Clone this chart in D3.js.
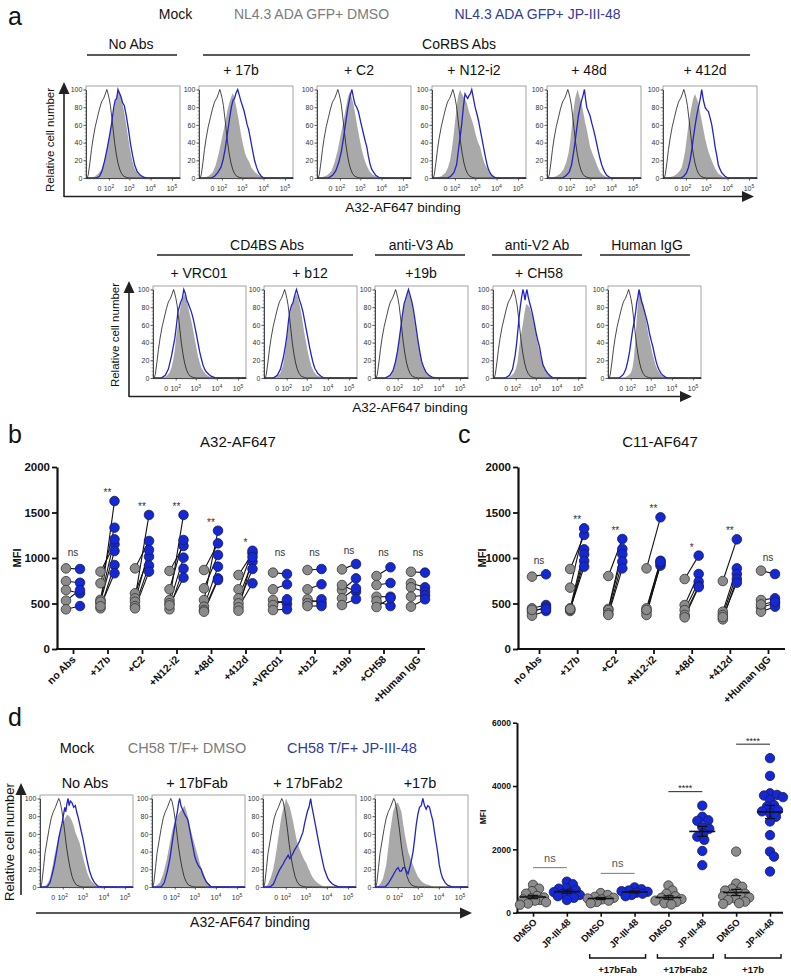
<!DOCTYPE html>
<html>
<head>
<meta charset="utf-8">
<script src="https://cdn.jsdelivr.net/npm/d3@7/dist/d3.min.js"></script>
<style>
  html,body{margin:0;padding:0;background:#fff;}
  svg{display:block;}
  text{font-family:"Liberation Sans",Arial,Helvetica,sans-serif;}
</style>
</head>
<body>
<svg id="fig" width="791" height="976" viewBox="0 0 791 976"></svg>
<script>
// ====================== DATA ======================
const histYTicks = [0, 20, 40, 60, 80, 100];
const histXTickPos = [1.5, 1.95, 2.92, 3.93, 4.95];
const histXExp = [null, "2", "3", "4", "5"];

const aRow1Labels = ["", "+ 17b", "+ C2", "+ N12-i2", "+ 48d", "+ 412d"];
const aRow2Labels = ["+ VRC01", "+ b12", "+19b", "+ CH58", ""];
const dHistLabels = ["No Abs", "+ 17bFab", "+ 17bFab2", "+17b"];

const mockA = [[0.92,0],[0.97,4],[1.05,18],[1.12,32],[1.2,45],[1.3,58],[1.4,68],[1.5,78],[1.6,86],[1.7,90],[1.78,95],[1.85,100],[1.9,96],[1.96,90],[2.02,82],[2.08,70],[2.15,55],[2.22,40],[2.3,27],[2.38,17],[2.46,10],[2.55,5],[2.65,2],[2.8,0.5],[2.95,0]];
const mockD = [[0.9,0],[0.95,5],[1.03,22],[1.1,38],[1.2,52],[1.3,66],[1.4,78],[1.5,85],[1.6,90],[1.68,95],[1.76,100],[1.82,97],[1.9,88],[1.98,75],[2.05,62],[2.12,48],[2.2,35],[2.3,22],[2.4,12],[2.5,6],[2.62,2],[2.8,0.5],[2.95,0]];

const aNoAbsGray = [[1.1,0],[1.3,2],[1.45,5],[1.6,10],[1.72,18],[1.85,32],[1.95,45],[2.05,58],[2.15,72],[2.25,85],[2.32,92],[2.4,100],[2.48,95],[2.56,88],[2.65,78],[2.75,64],[2.85,48],[2.95,33],[3.05,21],[3.15,12],[3.3,5],[3.5,2],[3.7,0]];
const aNoAbsBlue = [[1.35,0],[1.5,2],[1.62,8],[1.75,20],[1.88,35],[1.98,48],[2.08,62],[2.18,80],[2.25,88],[2.32,90],[2.38,100],[2.45,96],[2.52,92],[2.6,85],[2.68,82],[2.78,70],[2.88,55],[2.98,38],[3.08,25],[3.18,14],[3.3,7],[3.45,3],[3.6,1],[3.75,0]];
const a17bGray = [[1.0,0],[1.3,2],[1.5,6],[1.65,14],[1.8,28],[1.95,45],[2.1,62],[2.2,75],[2.3,85],[2.4,92],[2.47,96],[2.55,90],[2.65,78],[2.75,65],[2.85,50],[2.95,38],[3.05,28],[3.15,22],[3.25,18],[3.35,12],[3.5,7],[3.65,4],[3.85,1],[4.05,0]];
const a17bBlue = [[1.45,0],[1.6,2],[1.75,6],[1.9,12],[2.0,20],[2.1,32],[2.2,48],[2.3,65],[2.4,80],[2.48,88],[2.55,90],[2.62,96],[2.7,100],[2.76,95],[2.84,88],[2.92,82],[3.0,76],[3.08,68],[3.15,60],[3.22,55],[3.3,45],[3.4,32],[3.5,20],[3.6,12],[3.7,6],[3.82,2],[3.95,0]];
const aC2Gray = [[1.0,0],[1.35,3],[1.55,8],[1.7,18],[1.85,32],[1.98,48],[2.1,62],[2.22,78],[2.32,90],[2.4,97],[2.48,93],[2.58,85],[2.68,72],[2.78,58],[2.88,45],[2.98,33],[3.1,22],[3.22,14],[3.35,8],[3.5,4],[3.7,1],[3.9,0]];
const aC2Blue = [[1.4,0],[1.6,3],[1.75,8],[1.9,18],[2.02,30],[2.12,45],[2.22,62],[2.32,78],[2.4,88],[2.46,95],[2.52,100],[2.6,90],[2.67,83],[2.75,80],[2.83,75],[2.95,62],[3.07,50],[3.15,42],[3.23,35],[3.3,25],[3.38,16],[3.46,10],[3.54,7],[3.65,3],[3.78,1],[3.9,0]];
const aN12Gray = [[1.0,0],[1.3,2],[1.5,6],[1.62,12],[1.72,20],[1.8,32],[1.87,45],[1.95,62],[2.03,80],[2.1,92],[2.19,100],[2.28,95],[2.4,90],[2.51,85],[2.62,75],[2.72,68],[2.83,60],[2.95,48],[3.05,40],[3.15,35],[3.25,25],[3.35,17],[3.46,12],[3.54,8],[3.62,5],[3.8,1],[3.95,0]];
const aN12Blue = [[1.6,0],[1.75,2],[1.9,6],[2.03,15],[2.12,32],[2.19,45],[2.27,60],[2.35,80],[2.43,95],[2.5,92],[2.56,90],[2.62,93],[2.68,95],[2.75,100],[2.83,90],[2.91,80],[3.0,72],[3.07,65],[3.15,55],[3.23,45],[3.31,35],[3.39,25],[3.47,16],[3.54,10],[3.62,6],[3.7,3],[3.82,1],[3.94,0]];
const a48dGray = [[1.0,0],[1.3,2],[1.5,5],[1.65,10],[1.78,18],[1.88,28],[1.96,40],[2.04,58],[2.11,75],[2.2,90],[2.31,100],[2.4,92],[2.5,85],[2.6,72],[2.68,62],[2.75,55],[2.83,45],[2.91,35],[3.03,27],[3.15,20],[3.26,13],[3.38,7],[3.5,4],[3.62,2],[3.8,0]];
const a48dBlue = [[1.6,0],[1.78,3],[1.92,7],[2.03,15],[2.11,27],[2.19,40],[2.27,55],[2.35,70],[2.43,80],[2.51,88],[2.58,94],[2.64,100],[2.7,88],[2.75,80],[2.83,75],[2.91,70],[2.99,62],[3.07,55],[3.15,47],[3.23,38],[3.3,30],[3.38,22],[3.46,15],[3.54,10],[3.62,6],[3.7,3],[3.82,1],[3.94,0]];
const a412dGray = [[1.0,0],[1.35,2],[1.55,5],[1.68,9],[1.75,12],[1.83,20],[1.91,30],[1.99,45],[2.07,60],[2.15,72],[2.23,82],[2.3,90],[2.38,95],[2.46,90],[2.54,85],[2.62,75],[2.7,65],[2.78,55],[2.86,45],[2.94,37],[3.02,30],[3.14,22],[3.26,15],[3.38,9],[3.49,5],[3.61,3],[3.73,1],[3.9,0]];
const a412dBlue = [[1.7,0],[1.85,2],[1.98,6],[2.07,12],[2.15,20],[2.23,32],[2.3,45],[2.38,58],[2.46,70],[2.53,78],[2.59,85],[2.65,92],[2.7,100],[2.78,88],[2.86,80],[2.94,77],[3.02,75],[3.1,68],[3.18,60],[3.26,48],[3.34,35],[3.42,25],[3.49,15],[3.57,10],[3.65,6],[3.73,4],[3.81,2],[3.95,0]];
const aVrcGray = [[1.2,0],[1.5,2],[1.65,6],[1.75,12],[1.83,20],[1.91,32],[1.99,50],[2.07,62],[2.14,75],[2.22,85],[2.3,90],[2.38,95],[2.46,90],[2.54,82],[2.62,73],[2.7,65],[2.78,55],[2.86,45],[2.94,35],[3.02,25],[3.1,18],[3.18,12],[3.3,7],[3.42,4],[3.6,1],[3.75,0]];
const aVrcBlue = [[1.25,0],[1.45,3],[1.6,10],[1.75,25],[1.83,35],[1.91,45],[1.99,60],[2.06,75],[2.12,80],[2.18,85],[2.27,90],[2.34,100],[2.42,95],[2.48,88],[2.54,85],[2.62,80],[2.7,75],[2.76,70],[2.81,65],[2.88,57],[2.94,50],[3.02,40],[3.1,30],[3.18,22],[3.26,15],[3.34,10],[3.42,7],[3.55,4],[3.65,2],[3.89,0]];
const aB12Gray = [[1.2,0],[1.5,2],[1.65,6],[1.78,15],[1.88,30],[1.96,45],[2.04,60],[2.12,72],[2.2,82],[2.28,88],[2.36,93],[2.43,95],[2.5,90],[2.58,82],[2.66,72],[2.74,60],[2.82,48],[2.9,38],[2.98,28],[3.06,20],[3.14,13],[3.26,7],[3.4,3],[3.6,1],[3.75,0]];
const aB12Blue = [[1.3,0],[1.5,3],[1.65,10],[1.78,22],[1.88,35],[1.96,48],[2.04,65],[2.1,75],[2.18,82],[2.25,85],[2.32,92],[2.38,97],[2.42,100],[2.48,95],[2.57,88],[2.65,82],[2.73,75],[2.81,65],[2.89,55],[2.97,45],[3.05,35],[3.13,26],[3.21,18],[3.3,11],[3.45,5],[3.6,2],[3.75,0]];
const a19bGray = [[1.3,0],[1.55,2],[1.7,6],[1.82,15],[1.92,28],[2.0,40],[2.08,55],[2.16,68],[2.24,80],[2.32,88],[2.4,94],[2.47,97],[2.54,92],[2.62,85],[2.7,75],[2.78,62],[2.86,50],[2.94,38],[3.02,27],[3.1,18],[3.2,11],[3.3,6],[3.45,3],[3.6,1],[3.8,0]];
const a19bBlue = [[1.35,0],[1.58,3],[1.72,8],[1.84,18],[1.94,30],[2.02,43],[2.1,57],[2.18,72],[2.26,84],[2.34,90],[2.4,95],[2.47,100],[2.54,94],[2.62,87],[2.7,78],[2.78,66],[2.86,53],[2.94,40],[3.02,29],[3.1,19],[3.2,12],[3.3,7],[3.45,3],[3.6,1],[3.8,0]];
const aCh58Gray = [[1.5,0],[1.7,2],[1.85,5],[1.95,10],[2.04,18],[2.12,35],[2.2,48],[2.3,62],[2.38,75],[2.46,84],[2.54,82],[2.62,80],[2.7,74],[2.78,68],[2.86,58],[2.94,48],[3.02,38],[3.1,30],[3.2,20],[3.34,12],[3.45,7],[3.57,4],[3.75,1],[3.9,0]];
const aCh58Blue = [[1.45,0],[1.65,3],[1.8,10],[1.92,25],[2.0,40],[2.06,55],[2.12,70],[2.18,82],[2.24,92],[2.3,100],[2.35,95],[2.4,88],[2.45,96],[2.49,100],[2.55,92],[2.62,85],[2.7,78],[2.78,70],[2.86,60],[2.94,50],[3.02,42],[3.1,35],[3.18,24],[3.26,15],[3.38,9],[3.5,5],[3.62,2],[3.75,0]];
const aIgGGray = [[1.5,0],[1.7,1],[1.85,3],[1.96,6],[2.04,12],[2.1,22],[2.16,38],[2.22,60],[2.28,80],[2.33,95],[2.38,100],[2.44,95],[2.5,88],[2.58,80],[2.66,70],[2.74,58],[2.82,47],[2.9,38],[2.98,29],[3.06,22],[3.14,15],[3.24,9],[3.36,5],[3.5,2],[3.7,0]];
const aIgGBlue = [[1.4,0],[1.6,4],[1.72,10],[1.82,20],[1.9,30],[1.97,42],[2.05,55],[2.13,65],[2.19,75],[2.24,85],[2.3,92],[2.35,100],[2.42,92],[2.48,86],[2.54,82],[2.62,75],[2.7,68],[2.78,60],[2.86,50],[2.94,42],[3.02,35],[3.1,26],[3.18,18],[3.26,12],[3.34,8],[3.42,5],[3.5,3],[3.62,1],[3.75,0]];

const dNoAbsGray = [[1.0,0],[1.15,2],[1.25,5],[1.34,10],[1.45,22],[1.55,35],[1.66,47],[1.76,58],[1.87,66],[1.97,73],[2.07,78],[2.17,82],[2.27,80],[2.37,76],[2.47,70],[2.56,62],[2.66,56],[2.76,50],[2.88,38],[3.0,27],[3.12,17],[3.24,10],[3.36,6],[3.48,3],[3.65,0]];
const dNoAbsBlue = [[1.2,0],[1.34,5],[1.45,15],[1.55,25],[1.66,40],[1.76,55],[1.85,65],[1.92,72],[1.98,80],[2.05,90],[2.1,85],[2.16,95],[2.21,100],[2.26,92],[2.32,97],[2.4,95],[2.48,90],[2.56,92],[2.62,85],[2.68,80],[2.76,72],[2.84,63],[2.92,55],[3.0,45],[3.08,35],[3.16,26],[3.24,18],[3.36,10],[3.48,5],[3.64,1],[3.8,0]];
const d17bFabGray = [[0.95,0],[1.1,2],[1.24,5],[1.4,15],[1.56,30],[1.68,45],[1.8,60],[1.88,68],[1.96,75],[2.08,80],[2.2,85],[2.32,88],[2.43,92],[2.52,85],[2.6,78],[2.67,70],[2.75,62],[2.83,55],[2.95,45],[3.07,35],[3.18,25],[3.3,18],[3.42,10],[3.54,5],[3.7,1],[3.85,0]];
const d17bFabBlue = [[1.3,0],[1.45,5],[1.6,18],[1.72,32],[1.8,45],[1.88,58],[1.96,70],[2.02,78],[2.08,85],[2.14,95],[2.19,100],[2.25,92],[2.32,88],[2.4,84],[2.48,80],[2.54,78],[2.59,75],[2.67,65],[2.75,55],[2.83,45],[2.91,35],[2.99,29],[3.07,25],[3.15,22],[3.22,20],[3.3,14],[3.38,10],[3.46,6],[3.54,4],[3.7,0]];
const d17bFab2Gray = [[0.95,0],[1.1,3],[1.25,12],[1.35,20],[1.43,30],[1.51,42],[1.59,55],[1.67,68],[1.75,80],[1.83,88],[1.91,95],[1.97,100],[2.05,95],[2.15,90],[2.23,82],[2.3,75],[2.38,65],[2.46,55],[2.54,48],[2.62,43],[2.7,38],[2.78,34],[2.86,30],[2.94,27],[3.02,22],[3.1,18],[3.22,12],[3.34,8],[3.46,5],[3.58,3],[3.8,0]];
const d17bFab2Blue = [[1.15,0],[1.25,1],[1.35,3],[1.43,7],[1.51,12],[1.59,16],[1.67,20],[1.75,23],[1.83,26],[1.91,30],[1.99,33],[2.07,36],[2.15,32],[2.23,35],[2.3,38],[2.38,42],[2.46,45],[2.54,48],[2.62,52],[2.7,57],[2.78,62],[2.86,72],[2.94,80],[3.0,86],[3.07,90],[3.15,100],[3.2,92],[3.26,85],[3.34,75],[3.42,65],[3.5,55],[3.58,45],[3.66,36],[3.73,28],[3.81,20],[3.89,15],[3.97,10],[4.05,7],[4.17,4],[4.29,2],[4.53,0]];
const d17bGray = [[0.95,0],[1.1,3],[1.25,10],[1.4,25],[1.5,45],[1.57,60],[1.65,72],[1.73,85],[1.81,90],[1.89,95],[1.97,95],[2.05,90],[2.13,85],[2.21,72],[2.29,60],[2.37,50],[2.45,40],[2.57,32],[2.69,25],[2.8,18],[2.92,12],[3.04,8],[3.16,5],[3.32,3],[3.48,2],[3.7,0]];
const d17bBlue = [[1.35,0],[1.5,4],[1.65,10],[1.77,15],[1.89,20],[1.97,22],[2.05,18],[2.13,18],[2.21,22],[2.29,22],[2.37,18],[2.45,15],[2.53,22],[2.61,30],[2.69,40],[2.77,55],[2.84,70],[2.92,82],[3.0,90],[3.08,92],[3.16,100],[3.24,92],[3.32,88],[3.4,92],[3.48,90],[3.56,82],[3.64,75],[3.72,62],[3.8,50],[3.88,38],[3.95,25],[4.03,16],[4.11,10],[4.23,5],[4.35,2],[4.6,0]];

const mfiTicks = [0, 500, 1000, 1500, 2000];
const bCats = ["no Abs","+17b","+C2","+N12-i2","+48d","+412d","+VRC01","+b12","+19b","+CH58","+Human IgG"];
const bDmso = [
  [886,745,648,531,436],
  [850,722,541,505,447,520,470],
  [886,612,557,520,472,447],
  [858,656,538,502,436,480],
  [868,667,538,465,428,410],
  [813,656,557,502,458,421],
  [839,656,538,483,428],
  [868,656,546,502,472],
  [875,648,703,557,483],
  [802,703,575,527,461],
  [849,722,678,575,465]
];
const bJp = [
  [879,728,612,648,472],
  [1150,1333,1205,1626,923,1077,832],
  [1187,1015,1473,1088,916,850],
  [1132,1198,1473,1004,883,784],
  [1161,1033,1300,905,776,758],
  [1051,1080,960,879,722,1010],
  [824,711,494,546,436],
  [879,711,505,546,472],
  [934,776,630,667,549],
  [898,725,575,472,560],
  [839,678,630,590,546]
];
const bSig = ["ns","**","**","**","**","*","ns","ns","ns","ns","ns"];

const cCats = ["no Abs","+17b","+C2","+N12-i2","+48d","+412d","+Human IgG"];
const cDmso = [
  [795,447,410,366,430],
  [879,674,447,418,430,440],
  [802,440,428,391,374],
  [886,447,410,374,430],
  [769,483,428,374,348],
  [747,410,374,326,350],
  [861,538,458,410,490]
];
const cJp = [
  [821,483,458,418,440],
  [1253,1326,1095,1040,967,905],
  [1209,1099,1040,960,886],
  [1447,970,916,940,960],
  [1026,824,740,692,680],
  [1205,886,824,769,729],
  [824,557,502,465,520]
];
const cSig = ["ns","**","**","**","*","**","ns"];

const dTicks = [0, 2000, 4000, 6000];
const dXLabels = ["DMSO","JP-III-48","DMSO","JP-III-48","DMSO","JP-III-48","DMSO","JP-III-48"];
const dGroupNames = ["+17bFab","+17bFab2","+17b"];
const dSig = ["ns","ns","****","****"];
const dVals = [
  [880,760,680,600,530,480,450,420,380,330,290,250,400],
  [980,900,760,780,720,650,600,560,520,470,400,620],
  [620,560,500,450,420,380,340,300,470],
  [800,740,700,660,630,600,560,520,680],
  [860,700,600,520,470,430,380,340,300,260,420],
  [3380,3030,2920,2900,2700,2650,2500,2400,2300,1950,1500],
  [1930,920,820,760,700,640,600,560,500,450,400,350,300,280,480,520],
  [4880,4320,3770,3720,3700,3650,3560,3400,3350,3240,3140,3030,2880,2450,1930,1770,1300,3200]
];

// ====================== DRAWING ======================
const svg = d3.select("#fig");
const COL = {ink:"#111", grayTxt:"#7b7b7b", blueTxt:"#323c98", fill:"#a9a9a9",
             blueLine:"#2323c4", dotGray:"#8b8b8b", dotBlue:"#1428d4"};
const FF = '"Liberation Sans",Arial,sans-serif';

function label(x, y, s, o = {}) {
  const t = svg.append("text").attr("x", x).attr("y", y).text(s)
    .attr("font-size", o.size || 14).attr("fill", o.fill || COL.ink)
    .attr("text-anchor", o.anchor || "middle");
  if (o.weight) t.attr("font-weight", o.weight);
  if (o.rotate) t.attr("transform", `rotate(${o.rotate},${x},${y})`);
  return t;
}
function hline(x0, x1, y, w = 1.4, c = "#222") {
  svg.append("line").attr("x1", x0).attr("x2", x1).attr("y1", y).attr("y2", y)
    .attr("stroke", c).attr("stroke-width", w);
}
function arrowRight(x0, tip, y) {
  hline(x0, tip - 8, y, 1.6, "#222");
  svg.append("path").attr("d", `M${tip},${y} L${tip - 12},${y - 5.5} L${tip - 12},${y + 5.5} Z`).attr("fill", "#222");
}
function arrowUp(x, y0, tip) {
  svg.append("line").attr("x1", x).attr("x2", x).attr("y1", y0).attr("y2", tip + 8)
    .attr("stroke", "#222").attr("stroke-width", 1.6);
  svg.append("path").attr("d", `M${x},${tip} L${x - 5.5},${tip + 12} L${x + 5.5},${tip + 12} Z`).attr("fill", "#222");
}

const HDOM = [0.86, 5.33];
function hist(x0, y0, w, h, mock, gray, blue) {
  const g = svg.append("g");
  const xs = d3.scaleLinear().domain(HDOM).range([x0, x0 + w]);
  const ys = d3.scaleLinear().domain([0, 100]).range([y0 + h, y0 + 3.5]);
  g.append("rect").attr("x", x0).attr("y", y0).attr("width", w).attr("height", h)
    .attr("fill", "#fff").attr("stroke", "#9a9a9a").attr("stroke-width", 0.9);
  const full = c => [[HDOM[0], 0]].concat(c, [[HDOM[1], 0]]);
  g.append("path").datum(full(gray))
    .attr("d", d3.area().x(d => xs(d[0])).y0(ys(0)).y1(d => ys(d[1])))
    .attr("fill", COL.fill);
  const ln = d3.line().x(d => xs(d[0])).y(d => ys(d[1]));
  g.append("path").datum(full(mock)).attr("d", ln).attr("fill", "none")
    .attr("stroke", "#1a1a1a").attr("stroke-width", 0.8);
  g.append("path").datum(full(blue)).attr("d", ln).attr("fill", "none")
    .attr("stroke", COL.blueLine).attr("stroke-width", 1.3);
  const ya = g.append("g").attr("transform", `translate(${x0},0)`)
    .call(d3.axisLeft(ys).tickValues(histYTicks).tickSize(2.5).tickPadding(1.2).tickSizeOuter(0).tickFormat(d3.format("d")));
  ya.select(".domain").attr("stroke", "#333").attr("stroke-width", 0.9);
  ya.selectAll(".tick line").attr("stroke", "#333").attr("stroke-width", 0.8);
  ya.selectAll("text").attr("font-size", 7).attr("fill", "#333").attr("font-family", FF);
  const ym = g.append("g").attr("transform", `translate(${x0},0)`)
    .call(d3.axisLeft(ys).tickValues(d3.range(0, 101, 4)).tickSize(1.4).tickFormat(""));
  ym.select(".domain").remove();
  ym.selectAll(".tick line").attr("stroke", "#666").attr("stroke-width", 0.6);
  const xa = g.append("g").attr("transform", `translate(0,${y0 + h})`)
    .call(d3.axisBottom(xs).tickValues(histXTickPos.slice(1)).tickSize(2.5).tickFormat("").tickSizeOuter(0));
  xa.select(".domain").attr("stroke", "#333").attr("stroke-width", 0.9);
  xa.selectAll(".tick line").attr("stroke", "#333").attr("stroke-width", 0.8);
  const minorPos = [];
  for (let v = 0.95; v < 1.9; v += 0.12) minorPos.push(v);
  [1.95, 2.92, 3.93].forEach(b => { for (let k = 2; k <= 9; k++) minorPos.push(b + Math.log10(k)); });
  const xm = g.append("g").attr("transform", `translate(0,${y0 + h})`)
    .call(d3.axisBottom(xs).tickValues(minorPos.filter(v => v < HDOM[1])).tickSize(1.4).tickFormat(""));
  xm.select(".domain").remove();
  xm.selectAll(".tick line").attr("stroke", "#666").attr("stroke-width", 0.6);
  histXTickPos.forEach((u, i) => {
    const t = g.append("text").attr("x", xs(u)).attr("y", y0 + h + 12.5)
      .attr("text-anchor", "middle").attr("font-size", 7).attr("fill", "#333");
    if (histXExp[i] === null) t.text("0");
    else {
      t.append("tspan").text("10");
      t.append("tspan").attr("dy", -3).attr("font-size", 5).text(histXExp[i]);
    }
  });
}

// ---------------- Panel a ----------------
label(8, 25, "a", {size: 25, anchor: "start"});
label(175.5, 19, "Mock", {size: 14});
label(311.5, 19, "NL4.3 ADA GFP+ DMSO", {size: 14, fill: COL.grayTxt});
label(537.5, 19, "NL4.3 ADA GFP+ JP-III-48", {size: 14, fill: COL.blueTxt});

label(131, 49, "No Abs", {size: 14});
hline(87, 177, 55);
label(459, 49, "CoRBS Abs", {size: 14});
hline(203, 750, 55);

const row1Lefts = [86, 199, 317, 432, 547, 663];
const row1Curves = [[aNoAbsGray, aNoAbsBlue], [a17bGray, a17bBlue], [aC2Gray, aC2Blue],
                    [aN12Gray, aN12Blue], [a48dGray, a48dBlue], [a412dGray, a412dBlue]];
row1Lefts.forEach((x0, i) => {
  if (aRow1Labels[i]) label(x0 + 42, 75, aRow1Labels[i], {size: 14});
  hist(x0, 86, 94, 92, mockA, row1Curves[i][0], row1Curves[i][1]);
});
arrowUp(64, 197, 82);
label(54, 140, "Relative cell number", {size: 11.5, rotate: -90});
arrowRight(64, 754, 196.5);
label(403, 212, "A32-AF647 binding", {size: 13.5});

label(267, 250, "CD4BS Abs", {size: 14}); hline(157, 353, 255);
label(421, 250, "anti-V3 Ab", {size: 14}); hline(375, 465, 255);
label(537, 250, "anti-V2 Ab", {size: 14}); hline(492, 582, 255);
label(647, 250, "Human IgG", {size: 14}); hline(600, 690, 255);

const row2Lefts = [153, 264, 375, 493, 608];
const row2Curves = [[aVrcGray, aVrcBlue], [aB12Gray, aB12Blue], [a19bGray, a19bBlue],
                    [aCh58Gray, aCh58Blue], [aIgGGray, aIgGBlue]];
row2Lefts.forEach((x0, i) => {
  if (aRow2Labels[i]) label(x0 + 46, 278, aRow2Labels[i], {size: 14});
  hist(x0, 286, 93, 92, mockA, row2Curves[i][0], row2Curves[i][1]);
});
arrowUp(129, 397, 281);
label(119, 335, "Relative cell number", {size: 11.5, rotate: -90});
arrowRight(129, 692, 396.5);
label(410, 412, "A32-AF647 binding", {size: 13.5});

// ---------------- Panels b & c ----------------
function paired(o) {
  const y = d3.scaleLinear().domain([0, 2000]).range([649, 467]);
  const x = d3.scalePoint().domain(o.cats).range(o.xr);
  const g = svg.append("g");
  const ya = g.append("g").attr("transform", `translate(${o.ax0},0)`)
    .call(d3.axisLeft(y).tickValues(mfiTicks).tickSize(5).tickPadding(2).tickSizeOuter(0).tickFormat(d3.format("d")));
  ya.select(".domain").attr("stroke", "#111").attr("stroke-width", 2.2);
  ya.selectAll(".tick line").attr("stroke", "#111").attr("stroke-width", 1.8);
  ya.selectAll("text").attr("font-size", 11.5).attr("font-weight", "bold").attr("fill", "#111").attr("font-family", FF);
  const xa = g.append("g").attr("transform", "translate(0,649)")
    .call(d3.axisBottom(x).tickSize(5).tickSizeOuter(0));
  xa.select(".domain").remove();
  xa.selectAll(".tick line").attr("stroke", "#111").attr("stroke-width", 1.8);
  xa.selectAll("text").attr("font-size", 10.5).attr("font-weight", "bold").attr("fill", "#111")
    .attr("font-family", FF)
    .attr("text-anchor", "end").attr("x", 0).attr("y", 0).attr("dy", 0)
    .attr("transform", "translate(3,11) rotate(-45)");
  g.append("line").attr("x1", o.ax0 - 1).attr("x2", o.ax1).attr("y1", 649).attr("y2", 649)
    .attr("stroke", "#111").attr("stroke-width", 2.2);

  const off = 7, r = 4.8;
  o.cats.forEach((c, i) => {
    const cx = x(c);
    const dm = o.dm[i], jp = o.jp[i];
    dm.forEach((v, j) => {
      g.append("line").attr("x1", cx - off).attr("y1", y(v)).attr("x2", cx + off).attr("y2", y(jp[j]))
        .attr("stroke", "#111").attr("stroke-width", 1.1);
    });
    dm.forEach(v => g.append("circle").attr("cx", cx - off).attr("cy", y(v)).attr("r", r)
      .attr("fill", COL.dotGray).attr("stroke", "#333").attr("stroke-width", 0.8));
    jp.forEach(v => g.append("circle").attr("cx", cx + off).attr("cy", y(v)).attr("r", r)
      .attr("fill", COL.dotBlue).attr("stroke", "#1a1a55").attr("stroke-width", 0.8));
    const top = y(d3.max(dm.concat(jp)));
    const s = o.sig[i];
    if (s === "ns") {
      const cy = Math.min(top - 13, o.cap);
      g.append("text").attr("x", cx).attr("y", cy + 3).attr("text-anchor", "middle")
        .attr("font-size", 10).attr("fill", "#333").text(s);
    } else {
      const cy = top - 11;
      g.append("text").attr("x", cx).attr("y", cy + 6).attr("text-anchor", "middle")
        .attr("font-size", 10).attr("fill", "#333").text(s);
    }
  });
}

label(8, 443, "b", {size: 25, anchor: "start"});
label(238, 447, "A32-AF647", {size: 15});
label(21, 558, "MFI", {size: 11, weight: "bold", rotate: -90});
paired({cats: bCats, dm: bDmso, jp: bJp, sig: bSig, xr: [73, 418], ax0: 57, ax1: 425, cap: 553});

label(458, 443, "c", {size: 25, anchor: "start"});
label(660, 447, "C11-AF647", {size: 15});
label(486, 558, "MFI", {size: 11, weight: "bold", rotate: -90});
paired({cats: cCats, dm: cDmso, jp: cJp, sig: cSig, xr: [539, 768], ax0: 518, ax1: 785, cap: 565});

// ---------------- Panel d (left) ----------------
label(8, 726, "d", {size: 25, anchor: "start"});
label(77, 753, "Mock", {size: 14.5});
label(187, 753, "CH58 T/F+ DMSO", {size: 14.5, fill: COL.grayTxt});
label(352, 753, "CH58 T/F+ JP-III-48", {size: 14.5, fill: COL.blueTxt});

const dLefts = [40, 152, 263, 375];
const dCurves = [[dNoAbsGray, dNoAbsBlue], [d17bFabGray, d17bFabBlue],
                 [d17bFab2Gray, d17bFab2Blue], [d17bGray, d17bBlue]];
dLefts.forEach((x0, i) => {
  label(x0 + 45, 788, dHistLabels[i], {size: 14.5});
  hist(x0, 795, 93, 92, mockD, dCurves[i][0], dCurves[i][1]);
});
arrowUp(21, 895, 783);
label(14, 842, "Relative cell number", {size: 13, rotate: -90});
arrowRight(36, 472, 913);
label(250, 927, "A32-AF647 binding", {size: 14});

// ---------------- Panel d (right) ----------------
(function () {
  const y = d3.scaleLinear().domain([0, 6000]).range([912.7, 722.7]);
  const idx = d3.range(dXLabels.length);
  const x = d3.scalePoint().domain(idx).range([533, 770]);
  const g = svg.append("g");
  const ya = g.append("g").attr("transform", "translate(517,0)")
    .call(d3.axisLeft(y).tickValues(dTicks).tickSize(4).tickPadding(2).tickSizeOuter(0).tickFormat(d3.format("d")));
  ya.select(".domain").attr("stroke", "#111").attr("stroke-width", 2);
  ya.selectAll(".tick line").attr("stroke", "#111").attr("stroke-width", 1.6);
  ya.selectAll("text").attr("font-size", 8.5).attr("font-weight", "bold").attr("fill", "#111").attr("font-family", FF);
  const xa = g.append("g").attr("transform", "translate(0,912.7)")
    .call(d3.axisBottom(x).tickSize(4).tickSizeOuter(0).tickFormat(i => dXLabels[i]));
  xa.select(".domain").remove();
  xa.selectAll(".tick line").attr("stroke", "#111").attr("stroke-width", 1.6);
  xa.selectAll("text").attr("font-size", 9.5).attr("font-weight", "bold").attr("fill", "#111")
    .attr("font-family", FF)
    .attr("text-anchor", "end").attr("x", 0).attr("y", 0).attr("dy", 0)
    .attr("transform", "translate(4,10) rotate(-45)");
  g.append("line").attr("x1", 516).attr("x2", 783).attr("y1", 912.7).attr("y2", 912.7)
    .attr("stroke", "#111").attr("stroke-width", 2);
  label(486, 817, "MFI", {size: 8.5, weight: "bold", rotate: -90});

  const r = 4.7, maxOff = 13;
  function swarm(vals, cx) {
    const pts = vals.map(v => ({v, y: y(v)})).sort((a, b) => a.y - b.y);
    const placed = [];
    const cands = [0];
    for (let k = 1; k <= maxOff; k++) { cands.push(k); cands.push(-k); }
    pts.forEach(p => {
      let best = null, bestD = -1;
      for (const o of cands) {
        const xx = cx + o;
        const dmin = placed.length ? d3.min(placed, q => Math.hypot(q.x - xx, q.y - p.y)) : Infinity;
        if (dmin >= r * 1.35) { best = xx; break; }
        if (dmin > bestD) { bestD = dmin; best = xx; }
      }
      p.x = best;
      placed.push(p);
    });
    return placed;
  }
  dVals.forEach((vals, i) => {
    const cx = x(i);
    const isJp = i % 2 === 1;
    swarm(vals, cx).forEach(p => g.append("circle").attr("cx", p.x).attr("cy", p.y).attr("r", r)
      .attr("fill", isJp ? COL.dotBlue : COL.dotGray)
      .attr("stroke", isJp ? "#1a1a55" : "#333").attr("stroke-width", 0.8));
    const m = d3.mean(vals), sem = d3.deviation(vals) / Math.sqrt(vals.length);
    g.append("line").attr("x1", cx - 13).attr("x2", cx + 13).attr("y1", y(m)).attr("y2", y(m))
      .attr("stroke", "#111").attr("stroke-width", 1.6);
    g.append("line").attr("x1", cx).attr("x2", cx).attr("y1", y(m - sem)).attr("y2", y(m + sem))
      .attr("stroke", "#111").attr("stroke-width", 1.2);
    [m - sem, m + sem].forEach(v => g.append("line").attr("x1", cx - 5).attr("x2", cx + 5)
      .attr("y1", y(v)).attr("y2", y(v)).attr("stroke", "#111").attr("stroke-width", 1.2));
  });
  dSig.forEach((s, k) => {
    const a = 2 * k, b = 2 * k + 1;
    const ly = y(d3.max(dVals[a].concat(dVals[b]))) - 14;
    const isNs = s === "ns";
    g.append("line").attr("x1", x(a)).attr("x2", x(b)).attr("y1", ly).attr("y2", ly)
      .attr("stroke", isNs ? "#777" : "#222").attr("stroke-width", 1);
    g.append("text").attr("x", (x(a) + x(b)) / 2).attr("y", isNs ? ly - 6 : ly - 0.5)
      .attr("text-anchor", "middle").attr("font-size", isNs ? 11 : 9)
      .attr("fill", isNs ? "#555" : "#222").text(s);
  });
  dGroupNames.forEach((name, k) => {
    const a = 2 * (k + 1), b = a + 1;
    const x0 = x(a) - 11, x1 = x(b) + 11, by = 958;
    g.append("path").attr("d", `M${x0},${by - 4} L${x0},${by} L${x1},${by} L${x1},${by - 4}`)
      .attr("fill", "none").attr("stroke", "#111").attr("stroke-width", 1.4);
    g.append("text").attr("x", (x0 + x1) / 2).attr("y", 973).attr("text-anchor", "middle")
      .attr("font-size", 9.5).attr("font-weight", "bold").attr("fill", "#111").text(name);
  });
})();
</script>
</body>
</html>
